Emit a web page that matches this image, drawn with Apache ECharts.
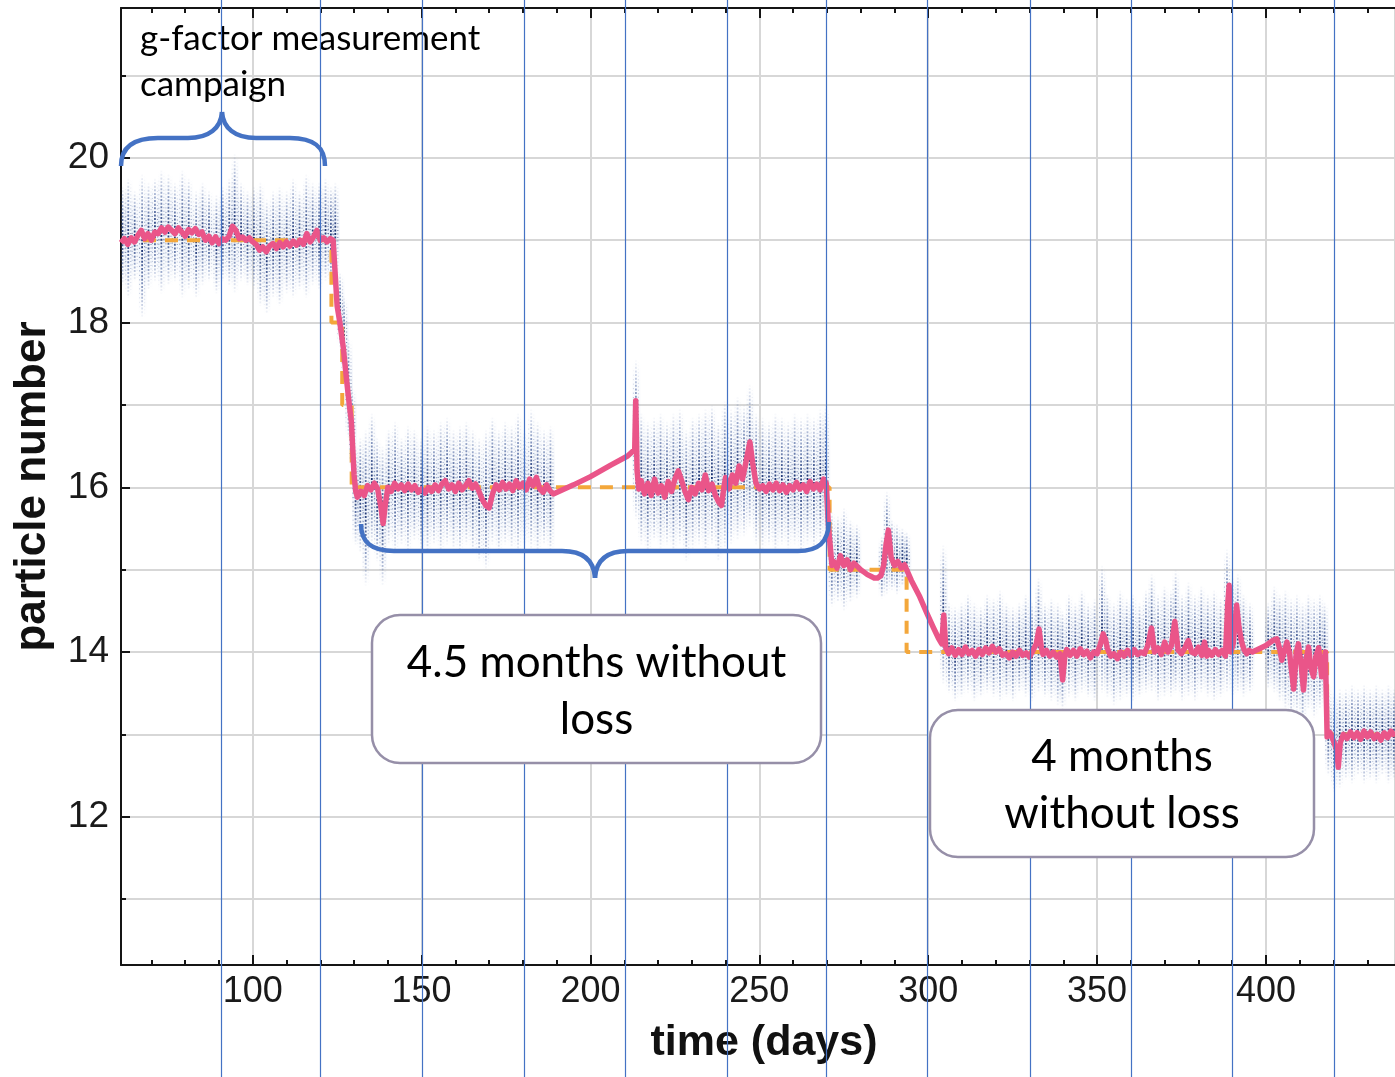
<!DOCTYPE html>
<html><head><meta charset="utf-8">
<script src="https://cdn.jsdelivr.net/npm/echarts@6/dist/echarts.min.js"></script>
<style>html,body{margin:0;padding:0;background:#fff}#c{width:1395px;height:1077px}</style>
</head><body><div id="c"></div>
<script>
// ---------- data ----------
const xRange = [61, 438.2];
const yRange = [10.2, 21.82];
const xMajorTicks = [100, 150, 200, 250, 300, 350, 400];
const xMinorTicks = [70, 80, 90, 110, 120, 130, 140, 160, 170, 180, 190, 210, 220, 230, 240, 260, 270, 280, 290, 310, 320, 330, 340, 360, 370, 380, 390, 410, 420, 430];
const yLabelTicks = [12, 14, 16, 18, 20];
const yMinorTicks = [11, 13, 15, 17, 19, 21];
// month guide lines (days)
const monthLines = [90.6, 120, 150, 180.3, 210.3, 240.3, 269.6, 299.7, 330.1, 359.9, 389.8, 420.2];

// smoothed particle number (pink)
const trend = [
[61,18.97],[62,19.02],[63,18.95],[64,19.03],[65,18.98],[66,19.06],[67,19.12],[68,19.02],[69,19.08],[70,19.0],
[71,19.1],[72,19.08],[73,19.15],[74,19.1],[75,19.16],[76,19.12],[77,19.08],[78,19.15],[79,19.1],[80,19.05],
[81,19.13],[82,19.09],[83,19.14],[84,19.07],[85,19.1],[86,19.0],[87,19.05],[88,18.97],[89,19.04],[90,18.96],
[91,19.02],[92,19.0],[93,19.05],[94,19.17],[95,19.12],[96,19.02],[97,19.04],[98,19.0],[99,19.03],[100,18.98],
[101,18.95],[102,18.88],[103,18.92],[104,18.86],[105,18.93],[106,18.96],[107,18.9],[108,18.97],[109,18.92],[110,18.98],
[111,18.93],[112,18.99],[113,18.94],[114,19.0],[115,18.95],[116,19.08],[117,18.98],[118,19.04],[119,19.12],[120,19.0],
[121,19.03],[122,18.98],[123,19.02],[123.8,19.0],[125,18.2],[125.8,18.0],[126.8,17.7],[127.8,17.3],[128.6,17.0],[129.2,16.8],
[130,16.15],[130.5,15.95],[131,15.88],[132,15.95],[133,15.9],[134,16.02],[135,15.97],[136,16.05],[137,15.98],[138,15.75],
[138.6,15.56],[139.3,15.8],[140,16.0],[141,15.95],[142,16.05],[143,15.98],[144,16.03],[145,15.96],[146,16.04],[147,15.97],
[148,16.02],[149,15.94],[150,15.98],[151,15.93],[152,16.0],[153,15.95],[154,16.03],[155,15.96],[156,16.04],[157,16.08],
[158,15.98],[159,16.03],[160,15.95],[161,16.05],[162,15.97],[163,16.02],[164,16.08],[165,15.99],[166,16.04],[167,15.95],
[168,15.85],[169,15.78],[170,15.75],[171,15.92],[172,16.03],[173,15.97],[174,16.06],[175,15.98],[176,16.04],[177,15.96],
[178,16.08],[179,16.0],[180,16.05],[181,15.97],[182,16.1],[183,16.02],[184,16.12],[185,15.98],[186,15.94],[187,16.03],
[188,15.96],[189,15.92],[195,16.03],[200,16.13],[206,16.27],[211,16.38],[213.1,16.46],[213.4,17.05],[213.8,16.2],[214.3,15.98],
[215,16.08],[216,15.92],[217,16.05],[218,15.9],[219,16.1],[220,15.93],[221,16.02],[222,15.88],[223,16.07],[224,15.95],
[225,16.1],[226,16.2],[227,16.08],[228,15.95],[229,15.85],[230,16.0],[231,15.92],[232,16.05],[233,15.97],[234,16.15],
[235,15.96],[236,16.04],[237,15.9],[238,15.82],[238.8,15.78],[239.5,16.0],[240,16.12],[241,15.98],[242,16.15],[243,16.05],
[244,16.26],[245,16.1],[246,16.3],[247.2,16.55],[248,16.3],[249,16.05],[250,15.98],[251,16.02],[252,15.95],[253,16.04],
[254,15.97],[255,16.05],[256,15.96],[257,16.03],[258,15.94],[259,16.02],[260,15.97],[261,16.06],[262,15.98],[263,16.03],
[264,15.95],[265,16.07],[266,15.98],[267,16.04],[268,15.97],[269,16.1],[269.8,16.05],[270.5,15.5],[271.5,15.05],[272,15.1],
[273,15.02],[274,15.17],[275,15.05],[276,15.12],[277,15.0],[278,15.08],[279,15.04],[280,15.0],[281,14.97],[282,14.94],
[283,14.92],[284,14.9],[285,14.9],[286,14.93],[286.8,15.05],[287.5,15.3],[288.2,15.48],[289,15.15],[290,15.05],[291,15.1],
[292,15.02],[293,15.06],[293.6,15.0],[295,14.87],[297.5,14.67],[299.5,14.48],[301.5,14.3],[303,14.17],[304,14.1],[304.6,14.45],
[305.2,14.05],[306,13.98],[307,14.05],[308,13.96],[309,14.03],[310,13.97],[311,14.06],[312,13.98],[313,14.02],[314,13.95],
[315,14.03],[316,13.97],[317,14.05],[318,13.99],[319,14.07],[320,14.0],[321,14.04],[322,13.96],[323,13.98],[324,13.93],
[325,14.0],[326,13.95],[327,14.02],[328,13.96],[329,13.99],[330,13.94],[331,14.02],[332,14.1],[332.8,14.28],[333.5,14.05],
[334,13.97],[335,14.02],[336,13.95],[337,14.0],[338,13.94],[339,13.98],[339.8,13.66],[340.5,13.97],[341,14.03],[342,13.96],
[343,14.02],[344,13.95],[345,14.04],[346,13.97],[347,14.01],[348,13.93],[349,14.0],[350,13.98],[351,14.1],[351.8,14.22],
[352.5,14.15],[353,14.05],[354,13.95],[355,13.98],[356,13.92],[357,14.0],[358,13.95],[359,14.02],[360,13.96],[361,14.03],
[362,13.97],[363,14.0],[364,13.98],[365,14.08],[366.1,14.29],[367,14.0],[368,14.05],[369,13.97],[370,14.12],[371,14.0],
[372,14.08],[373,14.37],[374,14.02],[375,13.98],[376,14.05],[377,14.14],[378,14.0],[379,13.98],[380,14.06],[381,13.96],
[381.8,14.12],[382.5,13.95],[383,14.02],[384,13.96],[385,14.03],[386,13.97],[387,14.02],[388,13.95],[388.7,14.6],[389.1,14.81],
[389.6,14.0],[390.3,14.1],[391.3,14.57],[392,14.3],[392.8,14.12],[393.5,14.03],[394.3,13.98],[395,14.02],[396,14.0],[398,14.04],
[400,14.08],[402,14.14],[403.2,14.16],[404,14.05],[404.7,13.9],[405.5,14.02],[406.2,14.12],[407,13.98],[408.2,13.55],[409,14.0],
[409.6,14.1],[410.4,13.85],[411.1,13.54],[411.8,13.9],[412.6,14.06],[413.3,13.8],[414.1,13.7],[414.8,13.95],[415.6,14.05],[416.5,13.7],
[417.6,14.0],[418.1,12.97],[419,13.02],[420,12.92],[421,12.8],[421.4,12.6],[422,12.9],[422.9,13.0],[424,12.95],[425,13.03],
[426,12.96],[427,13.02],[428,12.94],[429,13.04],[430,12.97],[431,13.03],[432,12.95],[433,13.0],[434,12.93],[435,13.02],
[436,12.96],[437,13.04],[438.2,12.98]
];

// integer particle-number steps (orange dashed)
const integerSteps = [
[61,19],[123.3,19],[123.3,18],[126.5,18],[126.5,17],[129.3,17],[129.3,16],[270.8,16],[270.8,15],[293.6,15],[293.6,14],[418.1,14],[418.1,13],[438.2,13]
];

// raw measurement streaks: [day, low, high]
const streaks = [
[61.6,18.45,19.65],[63.3,18.3,19.75],[65.2,18.5,19.6],[67.4,18.05,19.8],[69.3,18.4,19.7],[71.2,18.5,19.75],[73.1,18.35,19.85],
[75.2,18.45,19.8],[77.1,18.5,19.7],[79.3,18.3,19.85],[81.2,18.4,19.75],[83.4,18.3,19.6],[85.3,18.45,19.7],[87.2,18.5,19.6],
[89.4,18.35,19.55],[91.3,18.5,19.65],[93.2,18.45,19.75],[94.8,18.35,20.05],[96.7,18.5,19.7],[98.6,18.45,19.6],[100.5,18.4,19.65],
[102.4,18.2,19.7],[104.3,18.1,19.5],[106.2,18.3,19.6],[108.1,18.2,19.65],[110.2,18.35,19.6],[112.1,18.3,19.75],[114.0,18.4,19.6],
[116.0,18.3,19.8],[117.9,18.45,19.7],[119.8,18.4,19.7],[121.7,18.5,19.75],[123.3,18.45,19.65],[124.6,18.5,19.7],
[126.0,17.7,18.6],[127.2,17.3,18.3],[128.5,16.6,17.8],[129.6,16.2,17.2],[130.6,15.3,16.5],
[132.0,15.2,16.6],[133.6,14.8,16.7],[135.4,15.3,16.9],[137.0,15.1,16.6],[138.6,14.8,16.5],[140.4,15.3,16.7],[142.3,15.2,16.8],
[144.2,15.3,16.6],[146.1,15.2,16.75],[148.0,15.35,16.7],[150.0,15.25,16.6],[151.9,15.2,16.75],[153.8,15.3,16.7],[155.8,15.2,16.8],
[157.7,15.3,16.85],[159.6,15.25,16.7],[161.5,15.2,16.75],[163.4,15.3,16.8],[165.3,15.2,16.7],[167.2,15.1,16.6],[169.2,15.0,16.7],
[171.1,15.3,16.85],[173.0,15.2,16.7],[174.9,15.3,16.8],[176.8,15.25,16.75],[178.7,15.2,16.9],[180.6,15.3,16.7],[182.6,15.25,16.95],
[184.5,15.2,16.8],[186.4,15.3,16.7],[188.3,15.2,16.75],
[213.6,15.6,17.55],[215.2,15.3,16.9],[217.1,15.2,16.8],[219.0,15.35,16.85],[220.9,15.25,16.9],[222.8,15.3,16.8],[224.7,15.2,16.9],
[226.6,15.3,16.95],[228.5,15.1,16.7],[230.4,15.25,16.85],[232.3,15.3,16.9],[234.2,15.2,16.95],[236.1,15.3,17.0],[238.0,15.1,16.8],
[239.9,15.25,17.05],[241.8,15.3,16.95],[243.7,15.35,17.1],[245.6,15.4,17.0],[247.3,15.5,17.25],[249.2,15.3,16.9],[251.1,15.25,16.85],
[253.0,15.3,16.8],[254.9,15.2,16.9],[256.8,15.3,16.85],[258.7,15.25,16.8],[260.6,15.3,16.9],[262.5,15.2,16.85],[264.4,15.3,16.9],
[266.3,15.25,16.85],[268.2,15.3,16.95],[269.8,15.4,17.0],
[271.6,14.55,15.7],[273.4,14.6,15.65],[275.2,14.5,15.75],[277.1,14.6,15.6],[279.0,14.65,15.55],[286.4,14.65,15.4],[287.9,14.7,15.95],
[289.4,14.75,15.6],[290.9,14.7,15.55],[292.5,14.8,15.5],[293.8,14.8,15.45],
[304.6,13.6,15.3],[306.3,13.5,14.6],[308.1,13.4,14.55],[310.0,13.45,14.6],[311.9,13.5,14.7],[313.8,13.4,14.6],[315.7,13.45,14.55],
[317.6,13.5,14.7],[319.5,13.45,14.65],[321.4,13.4,14.75],[323.3,13.45,14.6],[325.2,13.4,14.55],[327.1,13.5,14.6],[329.0,13.45,14.7],
[330.9,13.4,14.6],[332.8,13.5,14.9],[334.7,13.45,14.6],[336.6,13.4,14.65],[338.5,13.35,14.6],[339.9,13.3,14.5],[341.8,13.45,14.7],
[343.7,13.4,14.6],[345.6,13.5,14.75],[347.5,13.45,14.6],[349.4,13.4,14.65],[351.6,13.5,15.05],[353.2,13.45,14.7],[355.1,13.35,14.6],
[357.0,13.4,14.75],[358.9,13.45,14.65],[360.8,13.4,14.7],[362.7,13.45,14.6],[364.6,13.5,14.75],[366.3,13.5,14.95],[368.2,13.4,14.7],
[370.1,13.45,14.8],[372.0,13.45,14.75],[373.4,13.5,15.0],[375.3,13.4,14.7],[377.2,13.45,14.85],[379.1,13.4,14.7],[381.0,13.5,14.8],
[382.9,13.45,14.7],[384.8,13.4,14.75],[386.7,13.45,14.65],[388.6,13.5,15.25],[390.3,13.45,14.9],[391.8,13.5,14.95],[393.5,13.45,14.7],
[395.4,13.5,14.6],[400.8,13.55,14.6],[402.6,13.5,14.8],[404.2,13.4,14.7],[405.9,13.3,14.75],[407.6,13.2,14.65],[409.3,13.25,14.7],
[411.0,13.1,14.6],[412.7,13.3,14.7],[414.4,13.2,14.65],[416.1,13.3,14.7],[417.5,13.4,14.6],
[418.6,12.5,13.6],[420.3,12.3,13.5],[422.0,12.35,13.55],[423.8,12.45,13.55],[425.6,12.4,13.6],[427.4,12.5,13.55],[429.2,12.4,13.6],
[431.0,12.45,13.55],[432.8,12.4,13.6],[434.6,12.5,13.55],[436.4,12.4,13.6],[438.0,12.45,13.55]
];

// ---------- chart ----------
const chart = echarts.init(document.getElementById('c'), null, {renderer: 'canvas'});
const black = '#151515';
const gridGray = '#d7d7d7';
const labelFont = 'Liberation Sans, Arial, Helvetica, sans-serif';
const noteFont = 'Lato, "Open Sans", sans-serif';

function tickAxis(pos, vals, len, showLine) {
  return {
    type: 'value', min: xRange[0], max: xRange[1], position: pos,
    axisLine: {show: showLine, onZero: false, lineStyle: {color: black, width: 2}},
    axisTick: {show: true, inside: true, length: len, customValues: vals, lineStyle: {color: black, width: 2}},
    axisLabel: {show: false}, splitLine: {show: false}
  };
}
function yTickAxis(vals, len, showLine) {
  return {
    type: 'value', min: yRange[0], max: yRange[1], position: 'left',
    axisLine: {show: showLine, onZero: false, lineStyle: {color: black, width: 2}},
    axisTick: {show: true, inside: true, length: len, customValues: vals, lineStyle: {color: black, width: 2}},
    axisLabel: {show: false}, splitLine: {show: false}
  };
}

const xMain = tickAxis('bottom', xMajorTicks, 10, true);
xMain.axisLabel = {show: true, customValues: xMajorTicks, fontSize: 36, color: '#1a1a1a', fontFamily: labelFont, margin: 9};
xMain.name = 'time (days)';
xMain.nameLocation = 'middle';
xMain.nameGap = 57;
xMain.nameTextStyle = {fontSize: 43, fontWeight: 'bold', color: '#111', fontFamily: labelFont, padding: [0, 0, 0, 12]};

const xGrid = {
  type: 'value', min: xRange[0], max: xRange[1], position: 'bottom', splitNumber: 8,
  axisLine: {show: false}, axisTick: {show: false}, axisLabel: {show: false},
  splitLine: {show: true, lineStyle: {color: gridGray, width: 2}}
};

const yMain = yTickAxis(yLabelTicks, 9, true);
yMain.axisLabel = {show: true, customValues: yLabelTicks, fontSize: 37, color: '#1a1a1a', fontFamily: labelFont, margin: 12};
yMain.name = 'particle number';
yMain.nameLocation = 'middle';
yMain.nameGap = 66;
yMain.nameTextStyle = {fontSize: 44, fontWeight: 'bold', color: '#111', fontFamily: labelFont};

const yGrid = {
  type: 'value', min: yRange[0], max: yRange[1], position: 'left', splitNumber: 12,
  axisLine: {show: false}, axisTick: {show: false}, axisLabel: {show: false},
  splitLine: {show: true, lineStyle: {color: gridGray, width: 2}}
};

function streakRender(params, api) {
  const d = api.value(0);
  const lo = api.coord([d, api.value(1)]);
  const hi = api.coord([d, api.value(2)]);
  const x = lo[0];
  const y1 = hi[1], y2 = lo[1];
  const grad = (a, b) => new echarts.graphic.LinearGradient(0, 0, 0, 1, [
    {offset: 0, color: 'rgba(60,90,160,0)'},
    {offset: 0.2, color: 'rgba(45,75,145,' + a + ')'},
    {offset: 0.5, color: 'rgba(20,45,110,' + b + ')'},
    {offset: 0.8, color: 'rgba(45,75,145,' + a + ')'},
    {offset: 1, color: 'rgba(60,90,160,0)'}
  ]);
  return {
    type: 'group',
    children: [
      {type: 'rect', shape: {x: x - 4, y: y1, width: 8, height: y2 - y1},
        style: {fill: new echarts.graphic.LinearGradient(0, 0, 0, 1, [
          {offset: 0, color: 'rgba(160,185,225,0)'},
          {offset: 0.5, color: 'rgba(160,185,225,0.14)'},
          {offset: 1, color: 'rgba(160,185,225,0)'}])}},
      {type: 'line', shape: {x1: x - 0.5, y1: y1, x2: x - 0.5, y2: y2},
        style: {stroke: grad(0.5, 1), lineWidth: 1.8, lineDash: [2, 1.6]}},
      {type: 'line', shape: {x1: x + 2, y1: y1 + 2, x2: x + 2, y2: y2 - 2},
        style: {stroke: grad(0.25, 0.6), lineWidth: 1.2, lineDash: [1, 2.5]}},
      {type: 'line', shape: {x1: x - 3, y1: y1 + 6, x2: x - 3, y2: y2 - 6},
        style: {stroke: grad(0.18, 0.4), lineWidth: 1, lineDash: [1, 3.5]}}
    ]
  };
}

const option = {
  animation: false,
  backgroundColor: '#fff',
  grid: {left: 121, top: 8, right: 0, bottom: 112, containLabel: false, outerBoundsMode: 'none'},
  xAxis: [
    xMain, xGrid,
    tickAxis('bottom', xMinorTicks, 5, false),
    tickAxis('top', xMajorTicks, 10, true),
    tickAxis('top', xMinorTicks, 5, false)
  ],
  yAxis: [
    yMain, yGrid,
    yTickAxis(yMinorTicks, 5, false)
  ],
  series: [
    {type: 'custom', name: 'measurements', xAxisIndex: 0, yAxisIndex: 0, clip: true, z: 1,
      renderItem: streakRender, encode: {x: 0, y: [1, 2]}, data: streaks},
    {type: 'line', name: 'steps', xAxisIndex: 0, yAxisIndex: 0, z: 2, showSymbol: false, symbol: 'none',
      lineStyle: {color: '#F3A73B', width: 4, type: [13, 9]}, data: integerSteps},
    {type: 'line', name: 'trend', xAxisIndex: 0, yAxisIndex: 0, z: 3, showSymbol: false, symbol: 'none',
      lineStyle: {color: '#EA5589', width: 5.5, join: 'round'}, data: trend}
  ]
};
chart.setOption(option);

// ---------- annotations ----------
const guideColor = '#4472C4';
const graphics = [];
graphics.push({type: 'text', z: 80, style: {text: 'g-factor measurement\ncampaign', x: 140, y: 16, font: '35px ' + noteFont, fill: '#000', lineHeight: 46}});
monthLines.forEach(d => {
  const px = Math.round(chart.convertToPixel({xAxisIndex: 0}, d)) + 0.5;
  graphics.push({type: 'line', z: 90, shape: {x1: px, y1: 0, x2: px, y2: 1077}, style: {stroke: guideColor, lineWidth: 1.2}});
});
// curly braces made of cubic bezier pieces and straight runs
function brace(pieces) {
  pieces.forEach(p => {
    const st = {fill: null, stroke: guideColor, lineWidth: 4.5};
    if (p.length === 4) graphics.push({type: 'line', z: 95, shape: {x1: p[0], y1: p[1], x2: p[2], y2: p[3]}, style: st});
    else graphics.push({type: 'bezierCurve', z: 95, shape: {x1: p[0], y1: p[1], cpx1: p[2], cpy1: p[3], cpx2: p[4], cpy2: p[5], x2: p[6], y2: p[7]}, style: st});
  });
}
brace([
  [121, 166, 121, 146, 135, 138, 158, 138], [158, 138, 188, 138], [188, 138, 209, 138, 221, 128, 222, 112],
  [222, 112, 223, 128, 235, 138, 256, 138], [256, 138, 290, 138], [290, 138, 313, 138, 325, 146, 325, 166]
]);
brace([
  [361, 524, 361, 543, 372, 551, 394, 551], [394, 551, 562, 551], [562, 551, 583, 551, 594, 560, 595, 578],
  [595, 578, 596, 560, 607, 551, 628, 551], [628, 551, 798, 551], [798, 551, 818, 551, 828, 543, 829, 522]
]);
function box(x, y, w, h, text) {
  graphics.push({type: 'rect', z: 110, shape: {x: x, y: y, width: w, height: h, r: 28},
    style: {fill: '#fff', stroke: '#968FA8', lineWidth: 2.5}});
  graphics.push({type: 'text', z: 111, style: {text: text, x: x + w / 2, y: y + h / 2 + 2, align: 'center', verticalAlign: 'middle',
    font: '44px ' + noteFont, fill: '#000', lineHeight: 57}});
}
box(372, 615, 449, 148, '4.5 months without\nloss');
box(930, 710, 384, 147, '4 months\nwithout loss');
chart.setOption({graphic: {elements: graphics}});
</script>
</body></html>
